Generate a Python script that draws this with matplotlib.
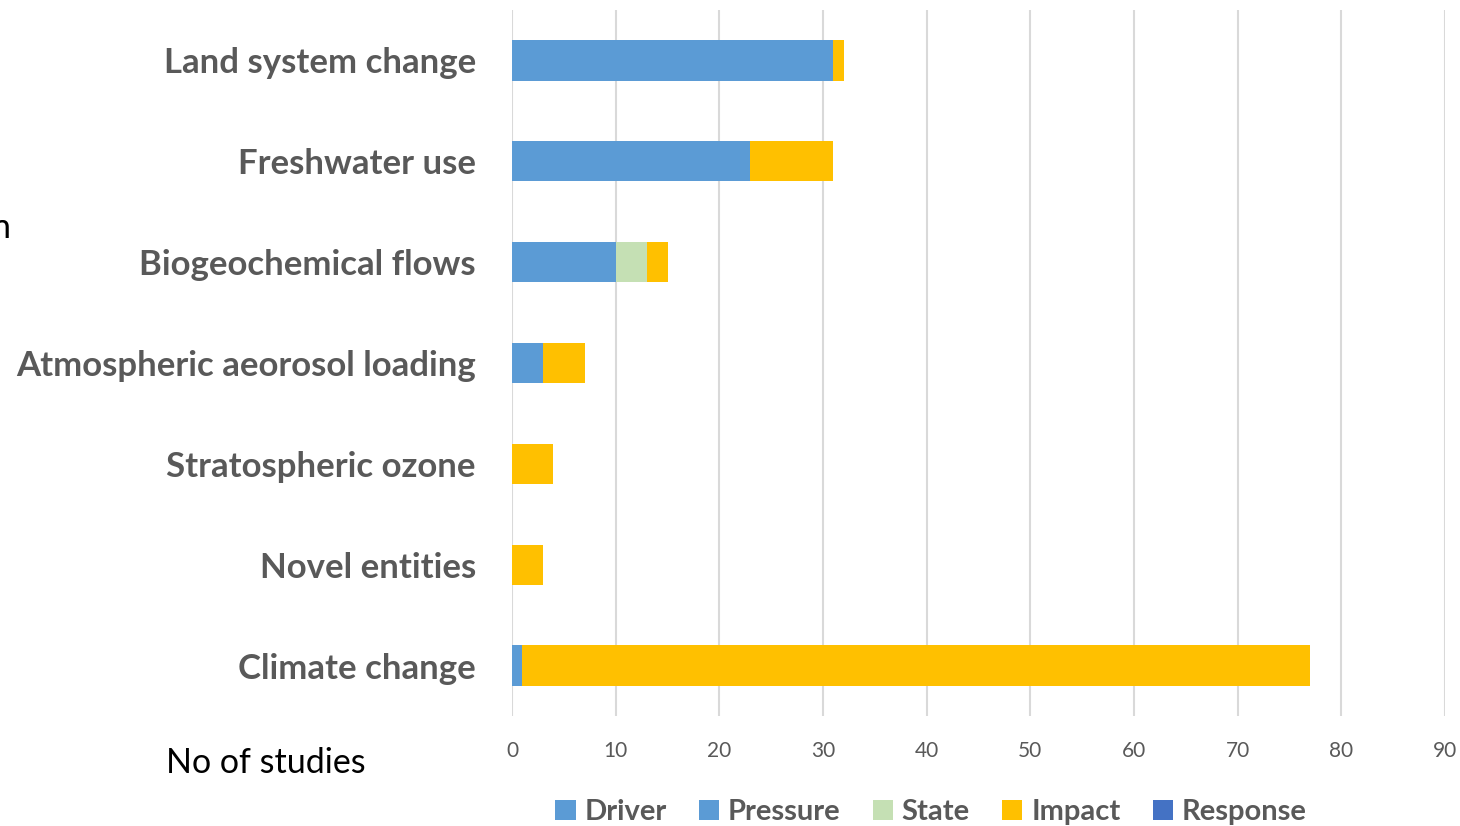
import numpy as np
import matplotlib.pyplot as plt

boundaries = ['Land system change', 'Freshwater use', 'Biogeochemical flows',
              'Atmospheric aeorosol loading', 'Stratospheric ozone',
              'Novel entities', 'Climate change']
driver = [0, 0, 0, 0, 0, 0, 0]
pressure = [31, 23, 10, 3, 0, 0, 1]
state = [0, 0, 3, 0, 0, 0, 0]
impact = [1, 8, 2, 4, 4, 3, 76]
response = [0, 0, 0, 0, 0, 0, 0]

series = [('Driver', driver, '#5B9BD5'),
          ('Pressure', pressure, '#5B9BD5'),
          ('State', state, '#C5E0B4'),
          ('Impact', impact, '#FFC000'),
          ('Response', response, '#4472C4')]

plt.rcParams['font.family'] = ['Lato', 'DejaVu Sans']

fig = plt.figure(figsize=(14.6, 8.26), dpi=100)
ax = fig.add_axes([0.3507, 0.1332, 0.639, 0.8547])

# stacked horizontal bars, one segment per DPSIR stage
y = np.arange(len(boundaries))
left = np.zeros(len(boundaries))
for name, vals, col in series:
    ax.barh(y, vals, left=left, height=0.4, color=col, label=name, zorder=3)
    left += np.array(vals)

ax.set_xlim(0, 90)
ax.set_ylim(len(boundaries) - 0.5, -0.5)
ax.set_xticks(range(0, 91, 10))
ax.set_yticks(y)
ax.set_yticklabels(boundaries, fontsize=25, fontweight='bold', color='#595959',
                   va='center_baseline')
ax.tick_params(axis='y', length=0, pad=26)
ax.tick_params(axis='x', length=0, pad=18, labelsize=15, labelcolor='#595959')
ax.xaxis.grid(True, color='#D9D9D9', linewidth=1.5, zorder=0)
for s in ax.spines.values():
    s.set_visible(False)

fig.text(0.114, 0.076, 'No of studies', fontsize=24.5, color='black', va='center')
fig.text(-0.006, 0.724, 'n', fontsize=24.5, color='black', va='center')

ax.legend(loc='center', bbox_to_anchor=(0.449, -0.136), ncol=5, frameon=False,
          handlelength=0.7, handleheight=0.7, columnspacing=1.1,
          handletextpad=0.3, labelcolor='#595959',
          prop={'weight': 'bold', 'size': 21})

fig.savefig('out.png', dpi=100)
